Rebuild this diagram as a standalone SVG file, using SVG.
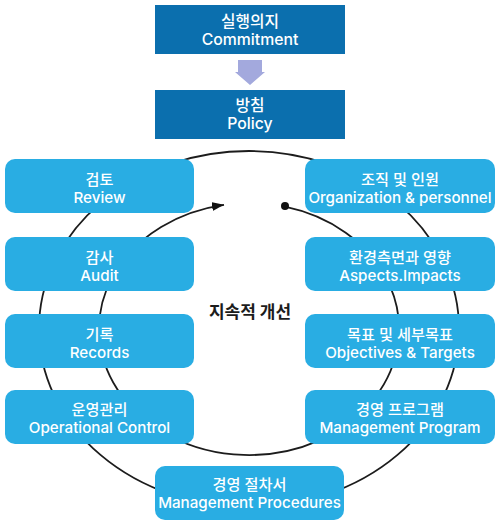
<svg xmlns="http://www.w3.org/2000/svg" width="500" height="526" viewBox="0 0 500 526">
<style>
.dk{fill:#0b6fae}
.lt{fill:#29ade3}
.t{font-family:Inter,"Noto Sans CJK KR",sans-serif;fill:#fff;text-anchor:middle;font-size:15.2px;font-weight:500}
.td{font-size:15.8px}
.ln{fill:none;stroke:#1c1c1c;stroke-width:1.8}
.c{font-family:Inter,"Noto Sans CJK KR",sans-serif;fill:#1c1c1c;text-anchor:middle;font-size:17px;font-weight:bold}
</style>
<defs>
<marker id="ah" viewBox="0 0 12 9" refX="12" refY="4.5" markerWidth="12" markerHeight="9" markerUnits="userSpaceOnUse" orient="auto">
<path d="M0,0 L12,4.5 L0,9 z" fill="#111"/>
</marker>
</defs>
<g id="connectors">
<ellipse class="ln" cx="249" cy="329" rx="210" ry="178"/>
<path class="ln" d="M285,206.7 A150,126 0 1 1 224,204.8" marker-end="url(#ah)"/>
<circle cx="285" cy="206" r="4" fill="#111"/>
<path d="M238,60 H262 V72 H265 L250,85 L235,72 H238 Z" fill="#a3a9dd"/>
</g>
<g id="commitment"><rect class="dk" x="155" y="5" width="190" height="49"/><text class="t td" x="250" y="26.5">실행의지</text><text class="t td" x="250" y="45">Commitment</text></g>
<g id="policy"><rect class="dk" x="155" y="90" width="190" height="49"/><text class="t td" x="250" y="110.5">방침</text><text class="t td" x="250" y="129">Policy</text></g>
<g id="review"><rect class="lt" x="5" y="159" width="189" height="54" rx="10"/><text class="t" x="99.5" y="185">검토</text><text class="t" x="99.5" y="203">Review</text></g>
<g id="audit"><rect class="lt" x="5" y="237" width="189" height="54" rx="10"/><text class="t" x="99.5" y="263">감사</text><text class="t" x="99.5" y="281">Audit</text></g>
<g id="records"><rect class="lt" x="5" y="314" width="189" height="54" rx="10"/><text class="t" x="99.5" y="340">기록</text><text class="t" x="99.5" y="358">Records</text></g>
<g id="operational"><rect class="lt" x="5" y="390" width="189" height="54" rx="10"/><text class="t" x="99.5" y="415">운영관리</text><text class="t" x="99.5" y="433">Operational Control</text></g>
<g id="organization"><rect class="lt" x="305" y="159" width="190" height="54" rx="10"/><text class="t" x="400" y="185">조직 및 인원</text><text class="t" x="400" y="203">Organization &amp; personnel</text></g>
<g id="aspects"><rect class="lt" x="305" y="237" width="190" height="54" rx="10"/><text class="t" x="400" y="263">환경측면과 영향</text><text class="t" x="400" y="281">Aspects.Impacts</text></g>
<g id="objectives"><rect class="lt" x="305" y="314" width="190" height="54" rx="10"/><text class="t" x="400" y="340">목표 및 세부목표</text><text class="t" x="400" y="358">Objectives &amp; Targets</text></g>
<g id="program"><rect class="lt" x="305" y="390" width="190" height="54" rx="10"/><text class="t" x="400" y="415">경영 프로그램</text><text class="t" x="400" y="433">Management Program</text></g>
<g id="procedures"><rect class="lt" x="155" y="466" width="189" height="54" rx="10"/><text class="t" x="249.5" y="490">경영 절차서</text><text class="t" x="249.5" y="508">Management Procedures</text></g>
<g id="center"><text class="c" x="250" y="318">지속적 개선</text></g>
</svg>
